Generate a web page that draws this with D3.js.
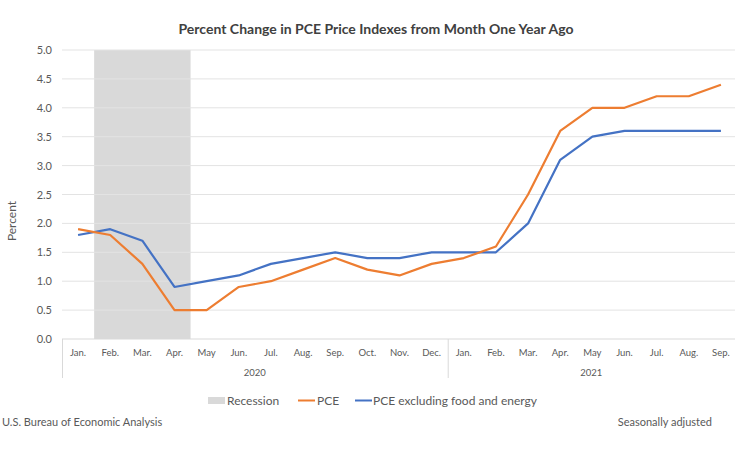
<!DOCTYPE html>
<html>
<head>
<meta charset="utf-8">
<script src="https://cdn.jsdelivr.net/npm/d3@7"></script>
<style>
  body { margin: 0; background: #fff; }
  svg { font-family: Lato, "Open Sans", sans-serif; }
</style>
</head>
<body>
<div id="chart"></div>
<script>
  var months = ['Jan.', 'Feb.', 'Mar.', 'Apr.', 'May', 'Jun.', 'Jul.', 'Aug.', 'Sep.', 'Oct.', 'Nov.', 'Dec.',
                'Jan.', 'Feb.', 'Mar.', 'Apr.', 'May', 'Jun.', 'Jul.', 'Aug.', 'Sep.'];
  var years = ['2020', '2021'];
  var yearStart = [0, 12];
  var pce = [1.9, 1.8, 1.3, 0.5, 0.5, 0.9, 1.0, 1.2, 1.4, 1.2, 1.1, 1.3,
             1.4, 1.6, 2.5, 3.6, 4.0, 4.0, 4.2, 4.2, 4.4];
  var core = [1.8, 1.9, 1.7, 0.9, 1.0, 1.1, 1.3, 1.4, 1.5, 1.4, 1.4, 1.5,
              1.5, 1.5, 2.0, 3.1, 3.5, 3.6, 3.6, 3.6, 3.6];
  var recession = [1, 3]; // Feb.–Apr. 2020
  var yTicks = [0, 0.5, 1, 1.5, 2, 2.5, 3, 3.5, 4, 4.5, 5];

  var width = 735, height = 450;
  var plotLeft = 62, plotRight = 737, plotTop = 50, plotBottom = 339;
  var orange = '#ed7d31', blue = '#4472c4', grey = '#595959';

  var svg = d3.select('#chart').append('svg').attr('width', width).attr('height', height);

  var idx = d3.range(months.length);
  var x = d3.scaleBand().domain(idx).range([plotLeft, plotRight]);
  var y = d3.scaleLinear().domain([0, 5]).range([plotBottom, plotTop]);

  svg.append('text').attr('x', 376).attr('y', 34).attr('text-anchor', 'middle')
    .attr('font-size', 14).attr('font-weight', 'bold').attr('fill', '#404040')
    .text('Percent Change in PCE Price Indexes from Month One Year Ago');

  // recession band
  svg.append('rect')
    .attr('x', x(recession[0])).attr('y', plotTop)
    .attr('width', x(recession[1]) + x.bandwidth() - x(recession[0]))
    .attr('height', plotBottom - plotTop).attr('fill', '#d9d9d9');

  // grid
  svg.append('g').selectAll('line').data(yTicks.slice(1)).enter().append('line')
    .attr('x1', plotLeft).attr('x2', width)
    .attr('y1', function(d) { return y(d); }).attr('y2', function(d) { return y(d); })
    .attr('stroke', '#e3e3e3').attr('stroke-width', 1);

  svg.append('g').selectAll('text').data(yTicks).enter().append('text')
    .attr('x', 52).attr('y', function(d) { return y(d) + 4; }).attr('text-anchor', 'end')
    .attr('font-size', 11).attr('fill', grey)
    .text(function(d) { return d.toFixed(1); });

  svg.append('text').attr('transform', 'translate(16,221) rotate(-90)').attr('text-anchor', 'middle')
    .attr('font-size', 12).attr('fill', grey).text('Percent');

  // x axis
  svg.append('line').attr('x1', plotLeft).attr('x2', width).attr('y1', plotBottom).attr('y2', plotBottom)
    .attr('stroke', '#d9d9d9');
  svg.append('g').selectAll('line').data(yearStart).enter().append('line')
    .attr('x1', function(d) { return x(d) + 0.5; }).attr('x2', function(d) { return x(d) + 0.5; })
    .attr('y1', plotBottom).attr('y2', 378).attr('stroke', '#d9d9d9');
  svg.append('g').selectAll('text').data(idx).enter().append('text')
    .attr('x', function(d) { return x(d) + x.bandwidth() / 2; }).attr('y', 356)
    .attr('text-anchor', 'middle').attr('font-size', 9.5).attr('fill', grey)
    .text(function(d) { return months[d]; });
  svg.append('g').selectAll('text').data(years).enter().append('text')
    .attr('x', function(d, i) {
      var a = x(yearStart[i]);
      var b = i + 1 < yearStart.length ? x(yearStart[i + 1]) : width;
      return (a + b) / 2;
    })
    .attr('y', 376).attr('text-anchor', 'middle').attr('font-size', 9.5).attr('fill', grey)
    .text(function(d) { return d; });

  // lines
  var line = d3.line()
    .x(function(d, i) { return x(i) + x.bandwidth() / 2; })
    .y(function(d) { return y(d); });
  svg.append('path').datum(core).attr('d', line).attr('fill', 'none')
    .attr('stroke', blue).attr('stroke-width', 2.2).attr('stroke-linejoin', 'round');
  svg.append('path').datum(pce).attr('d', line).attr('fill', 'none')
    .attr('stroke', orange).attr('stroke-width', 2.2).attr('stroke-linejoin', 'round');

  // legend
  var lg = svg.append('g').attr('font-size', 12).attr('fill', grey);
  lg.append('rect').attr('x', 208).attr('y', 397).attr('width', 17).attr('height', 7).attr('fill', '#d9d9d9');
  lg.append('text').attr('x', 227).attr('y', 405).text('Recession');
  lg.append('line').attr('x1', 298).attr('x2', 315).attr('y1', 400.5).attr('y2', 400.5)
    .attr('stroke', orange).attr('stroke-width', 2);
  lg.append('text').attr('x', 317).attr('y', 405).text('PCE');
  lg.append('line').attr('x1', 355).attr('x2', 372).attr('y1', 400.5).attr('y2', 400.5)
    .attr('stroke', blue).attr('stroke-width', 2);
  lg.append('text').attr('x', 373).attr('y', 405).text('PCE excluding food and energy');

  svg.append('text').attr('x', 2).attr('y', 426).attr('font-size', 11).attr('fill', grey)
    .text('U.S. Bureau of Economic Analysis');
  svg.append('text').attr('x', 712).attr('y', 426).attr('text-anchor', 'end')
    .attr('font-size', 11).attr('fill', grey).text('Seasonally adjusted');
</script>
</body>
</html>
